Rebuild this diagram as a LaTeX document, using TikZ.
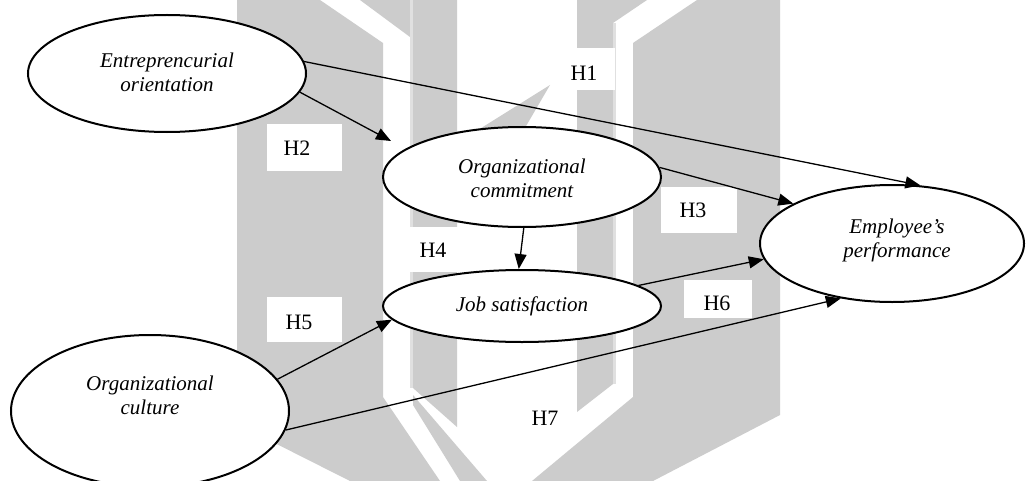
\documentclass[tikz,border=0pt]{standalone}
\usepackage{fontspec}
\setmainfont{Liberation Serif}
\usetikzlibrary{arrows.meta,shapes.geometric}
\definecolor{wm}{RGB}{204,204,204}
\definecolor{wmline}{RGB}{224,224,224}
\begin{document}
\begin{tikzpicture}[x=0.5pt,y=-0.5pt,
  ell/.style={draw=black, line width=1pt, ellipse, fill=white, inner sep=0pt},
  etxt/.style={font=\fontsize{10.5}{12}\selectfont\itshape, align=center, inner sep=0pt},
  lbl/.style={font=\fontsize{11}{13}\selectfont, inner sep=0pt},
  lbox/.style={fill=white, draw=none},
  wmark/.style={fill=wm, draw=none},
  wmthin/.style={fill=wmline, draw=none},
  conn/.style={line width=0.65pt, -{Triangle[length=7.5pt,width=6pt]}}]
\useasboundingbox (0,0) rectangle (1027,481);
\clip (0,0) rectangle (1027,481);
\fill[white] (0,0) rectangle (1027,481);
% watermark
\path[wmark] (237,0) -- (320,0) -- (383,43) -- (383,397) -- (440,481) -- (350,481) -- (237,424) -- cycle;
\path[wmark] (360,0) -- (410,0) -- (410,37) -- cycle;
\path[wmthin] (410,0) rectangle (413,388);
\path[wmark] (413,0) -- (457,0) -- (457,427) -- (413,388) -- cycle;
\path[wmark] (413,395) -- (487,481) -- (460,481) -- (413,405) -- cycle;
\path[wmark] (550,85) -- (470,135) -- (515,145) -- cycle;
\path[wmark] (577,0) -- (647,0) -- (613,23) -- (613,384) -- (577,412) -- cycle;
\path[wmthin] (613,23) rectangle (616,384);
\path[wmark] (697,0) -- (780,0) -- (780,415) -- (653,481) -- (532,481) -- (633,397) -- (633,43) -- cycle;
% label boxes
\path[lbox] (551,48) rectangle (615,90);
\path[lbox] (267,124) rectangle (342,171);
\path[lbox] (661,187) rectangle (737,233);
\path[lbox] (398,227) rectangle (468,272);
\path[lbox] (267,297) rectangle (342,342);
\path[lbox] (684,280) rectangle (752,318);
\path[lbox] (512,396) rectangle (576,440);
\node[lbl] (h1) at (584,73) {H1};
\node[lbl] (h2) at (297,148) {H2};
\node[lbl] (h3) at (693,210) {H3};
\node[lbl] (h4) at (433,250) {H4};
\node[lbl] (h5) at (299,322) {H5};
\node[lbl] (h6) at (717,303) {H6};
\node[lbl] (h7) at (545,418) {H7};
% ellipses
\node[ell, minimum width=139pt, minimum height=58.5pt] (eo) at (167,73.5) {};
\node[etxt] (eotext) at (167,72) {Entreprencurial\\orientation};
\node[ell, minimum width=139pt, minimum height=50pt] (oc) at (522,177) {};
\node[etxt] (octext) at (522,178) {Organizational\\commitment};
\node[ell, minimum width=139pt, minimum height=36pt] (js) at (522,306) {};
\node[etxt] (jstext) at (522,306) {Job satisfaction};
\node[ell, minimum width=132pt, minimum height=58.5pt] (ep) at (892,243.5) {};
\node[etxt] (eptext) at (897,240) {Employee’s\\performance};
\node[ell, minimum width=139pt, minimum height=76pt] (cu) at (150,411) {};
\node[etxt] (cutext) at (150,395) {Organizational\\culture};
% connectors
\coordinate (h2tip) at (391,141);
\draw[conn] (eo.5) -- (ep.64);
\draw[conn] (eo.-8) -- (h2tip);
\draw[conn] (oc.4) -- (ep.158);
\draw[conn] (oc.-88) -- (js.95);
\draw[conn] (cu.14) -- (js.186);
\draw[conn] (js.10) -- (ep.187);
\draw[conn] (cu.-8) -- (ep.227);
\end{tikzpicture}
\end{document}
